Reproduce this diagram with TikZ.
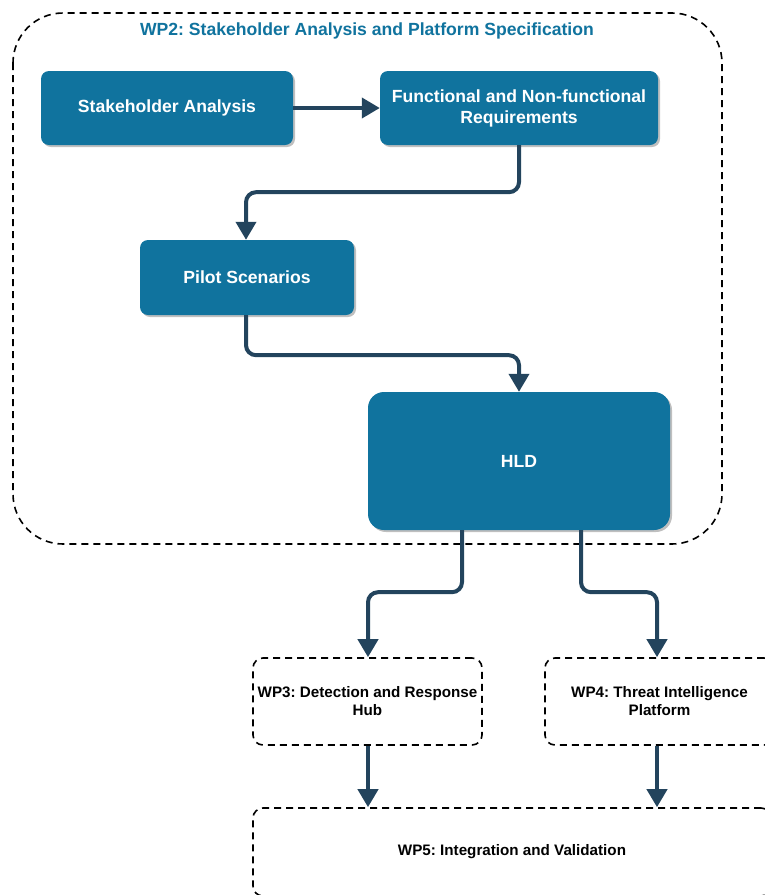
\documentclass[tikz,border=0pt]{standalone}
\usepackage{fontspec}
\setmainfont{Liberation Sans}
\usetikzlibrary{arrows.meta,shadows}
\definecolor{boxblue}{HTML}{10739E}
\definecolor{linknavy}{HTML}{23445D}
\frenchspacing
\tikzset{
  x=1pt, y=-1pt,
  stepbox/.style={draw=none, fill=boxblue, rounded corners=8pt, text=white,
    font=\bfseries\fontsize{17.6}{21}\selectfont, align=center, inner sep=0pt,
    drop shadow={shadow xshift=2pt, shadow yshift=-2pt, opacity=0.25, fill=black}},
  wpbox/.style={draw=black, dashed, dash pattern=on 7pt off 5pt, line width=1.6pt,
    rounded corners=10pt, font=\bfseries\fontsize{15.2}{18}\selectfont, align=center,
    inner sep=0pt},
  link/.style={draw=linknavy, line width=4pt, rounded corners=10pt,
    -{Triangle[length=18pt, width=20pt]}}
}
\begin{document}
\begin{tikzpicture}
\useasboundingbox (0,0) rectangle (764,895);
% WP2 container
\draw[black, dash pattern=on 7pt off 5pt, line width=1.6pt, rounded corners=50pt]
  (13,13) rectangle (722,544);
\node[text=boxblue, font=\bfseries\fontsize{17.6}{21}\selectfont] (title) at (367,31)
  {WP2: Stakeholder Analysis and Platform Specification};
% process steps
\node[stepbox, minimum width=252pt, minimum height=74pt] (sa) at (167,108) {Stakeholder Analysis};
\node[stepbox, minimum width=278pt, minimum height=74pt] (fr) at (519,108)
  {Functional and Non-functional\\Requirements};
\node[stepbox, minimum width=214pt, minimum height=75pt] (ps) at (247,277.5) {Pilot Scenarios};
\node[stepbox, minimum width=302pt, minimum height=138pt, rounded corners=16pt] (hld) at (519,461) {HLD};
% follow-up work packages
\node[wpbox, minimum width=229pt, minimum height=87pt] (wp3) at (367.5,701.5)
  {WP3: Detection and Response\\Hub};
\node[wpbox, minimum width=229pt, minimum height=87pt] (wp4) at (659.5,701.5)
  {WP4: Threat Intelligence\\Platform};
\node[wpbox, minimum width=518pt, minimum height=88pt] (wp5) at (512,852)
  {WP5: Integration and Validation};
% connectors
\draw[link] (sa.east) -- (fr.west);
\draw[link] (fr.south) -- ++(0,47) -| (ps.north -| 246,0);
\draw[link] (ps.south -| 246,0) -- ++(0,40) -| (hld.north);
\draw[link] (hld.south -| 462,0) -- ++(0,62) -| (wp3.north -| 368,0);
\draw[link] (hld.south -| 581,0) -- ++(0,62) -| (wp4.north -| 657,0);
\draw[link] (wp3.south -| 368,0) -- (wp5.north -| 368,0);
\draw[link] (wp4.south -| 657,0) -- (wp5.north -| 657,0);
\end{tikzpicture}
\end{document}
